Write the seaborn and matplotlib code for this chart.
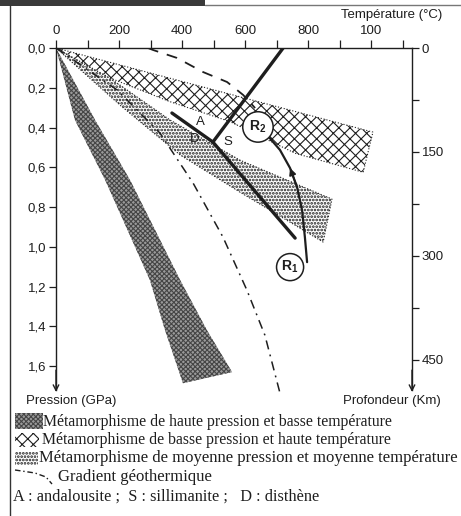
import numpy as np
import pandas as pd
import seaborn as sns
import matplotlib.pyplot as plt
from matplotlib.patches import Rectangle
from matplotlib.lines import Line2D

# Band outlines: temperature (°C) vs pressure (GPa)
hp_left_t = [0, 60, 156, 298, 346, 403]
hp_left_p = [0, 0.362, 0.664, 1.167, 1.419, 1.686]
hp_right_t = [0, 124, 235, 394, 479, 559]
hp_right_p = [0, 0.362, 0.664, 1.167, 1.419, 1.630]

bp_upper_t = [0, 1006]
bp_upper_p = [0, 0.423]
bp_lower_t = [0, 170, 362, 552, 760, 975]
bp_lower_p = [0, 0.15, 0.27, 0.37, 0.53, 0.625]

mp_upper_t = [0, 171, 362, 584, 876]
mp_upper_p = [0, 0.151, 0.362, 0.564, 0.760]
mp_lower_t = [0, 203, 394, 584, 848]
mp_lower_p = [0, 0.287, 0.538, 0.725, 0.976]

# geothermal gradient (dash-dot) and dashed curve
grad_t = [0, 194, 330, 435, 530, 606, 663, 711]
grad_p = [0, 0.211, 0.428, 0.679, 0.951, 1.218, 1.444, 1.736]
dash_t = [292, 308, 384, 467, 543, 594, 632]
dash_p = [0, 0.01, 0.05, 0.121, 0.171, 0.236, 0.302]

# aluminosilicate reactions (triple point)
ad_t, ad_p = [368, 498], [0.327, 0.473]
as_t, as_p = [498, 721], [0.473, 0.0]
sd_t, sd_p = [498, 759], [0.473, 0.956]
mineral_labels = ['A', 'D', 'S']
mineral_t = [457, 441, 546]
mineral_p = [0.372, 0.458, 0.473]

# rocks R1, R2 and the path between them
rock_labels = [r'$\mathbf{R_1}$', r'$\mathbf{R_2}$']
rock_t = [743, 641]
rock_p = [1.102, 0.397]
path_t = [797, 790, 781, 765, 743, 711, 673]
path_p = [1.077, 0.951, 0.815, 0.699, 0.604, 0.513, 0.443]

temp_ticks = list(range(0, 1200, 100))
temp_labels = ['0', '', '200', '', '400', '', '600', '', '800', '', '100', '']
press_ticks = [0, 0.2, 0.4, 0.6, 0.8, 1.0, 1.2, 1.4, 1.6]
depth_ticks = [0, 75, 150, 225, 300, 375, 450]
depth_labels = ['0', '', '150', '', '300', '', '450']
km_per_gpa = 287

legend_texts = [
    'Métamorphisme de haute pression et basse température',
    'Métamorphisme de basse pression et haute température',
    'Métamorphisme de moyenne pression et moyenne température',
    'Gradient géothermique',
    'A : andalousite ;  S : sillimanite ;   D : disthène',
]

sns.set_theme(style='ticks')
plt.rcParams['font.family'] = ['Liberation Sans', 'DejaVu Sans']
plt.rcParams['hatch.linewidth'] = 0.8
plt.rcParams['mathtext.fontset'] = 'custom'
plt.rcParams['mathtext.rm'] = 'Liberation Sans'
plt.rcParams['mathtext.bf'] = 'Liberation Sans:bold'

W, H = 461, 516
ink = '#1e1e1e'
hp_face, hp_hatch = '#9a9a9a', '#454545'
dot_hatch = '.....'
dot_lw = 1.3
fig = plt.figure(figsize=(W / 100, H / 100), dpi=100)
ax = fig.add_axes([56 / W, 1 - 390 / H, 356 / W, 342 / H])
ax.set_xlim(0, 1130)
ax.set_ylim(1.72, 0)

# bands
with plt.rc_context({'hatch.linewidth': dot_lw}):
    ax.fill(mp_upper_t + mp_lower_t[::-1], mp_upper_p + mp_lower_p[::-1],
            facecolor='white', edgecolor=ink, hatch=dot_hatch, lw=0.8, ls=':')
ax.fill(bp_upper_t + bp_lower_t[::-1], bp_upper_p + bp_lower_p[::-1],
        facecolor='white', edgecolor=ink, hatch='xxx', lw=0.8, ls=':')
ax.fill(hp_left_t + hp_right_t[::-1], hp_left_p + hp_right_p[::-1],
        facecolor=hp_face, edgecolor=hp_hatch, hatch='xxxxxxx', lw=0)

# lines
sns.lineplot(x=grad_t, y=grad_p, sort=False, color=ink, lw=1.1,
             linestyle=(0, (6, 3.5, 1.2, 3.5)), ax=ax, clip_on=False)
sns.lineplot(x=dash_t, y=dash_p, sort=False, color=ink, lw=1.3,
             linestyle=(0, (6, 5)), ax=ax)
for tt, pp in [(ad_t, ad_p), (as_t, as_p), (sd_t, sd_p)]:
    sns.lineplot(x=tt, y=pp, sort=False, color=ink, lw=2.4, ax=ax)
sns.lineplot(x=path_t, y=path_p, sort=False, color=ink, lw=1.6, ax=ax)
ax.annotate('', xy=(path_t[4], path_p[4]), xytext=(path_t[3], path_p[3]),
            arrowprops=dict(arrowstyle='-|>', color=ink, lw=1.2,
                            mutation_scale=10, shrinkA=0, shrinkB=0))

for lab, tt, pp in zip(mineral_labels, mineral_t, mineral_p):
    ax.text(tt, pp, lab, ha='center', va='center', fontsize=9.5, color=ink)

sns.scatterplot(x=rock_t, y=rock_p, size=[1, 0], sizes=(380, 480),
                facecolor='white', edgecolor=ink, linewidth=1.1, legend=False,
                ax=ax, zorder=5)
for lab, tt, pp in zip(rock_labels, rock_t, rock_p):
    ax.text(tt, pp, lab, ha='center', va='center', fontsize=10, color=ink, zorder=6)

# axes styling
ax.xaxis.tick_top()
ax.set_xticks(temp_ticks)
ax.set_xticklabels(temp_labels, fontsize=9.5)
ax.set_yticks(press_ticks)
ax.set_yticklabels([f'{v:.1f}'.replace('.', ',') for v in press_ticks], fontsize=9.5)
ax.tick_params(axis='x', direction='out', length=6, width=0.9, pad=2, colors=ink)
ax.tick_params(axis='y', direction='out', length=5, width=0.9, pad=2, colors=ink)
ax.set_xlabel('')
ax.set_ylabel('')
for side in ['bottom', 'right']:
    ax.spines[side].set_visible(False)
for side in ['top', 'left']:
    ax.spines[side].set_linewidth(1)
    ax.spines[side].set_color(ink)

ax2 = ax.twinx()
ax2.set_ylim(1.72 * km_per_gpa, 0)
ax2.set_yticks(depth_ticks)
ax2.set_yticklabels(depth_labels, fontsize=9.5)
ax2.tick_params(axis='y', direction='out', length=5, width=0.9, pad=2, colors=ink)
for side in ['bottom', 'top', 'left']:
    ax2.spines[side].set_visible(False)
ax2.spines['right'].set_color(ink)
ax2.spines['right'].set_linewidth(1)

for xx in [0, 1130]:
    ax.annotate('', xy=(xx, 1.73), xytext=(xx, 1.62), annotation_clip=False,
                arrowprops=dict(arrowstyle='->', color=ink, lw=1,
                                mutation_scale=10, shrinkA=0, shrinkB=0))

# axis titles
fig.text(392 / W, 1 - 15 / H, 'Température (°C)', ha='center', va='center',
         fontsize=9.5, color=ink)
fig.text(26 / W, 1 - 401 / H, 'Pression (GPa)', ha='left', va='center',
         fontsize=9.5, color=ink)
fig.text(392 / W, 1 - 401 / H, 'Profondeur (Km)', ha='center', va='center',
         fontsize=9.5, color=ink)

# legend below the chart
swatches = [
    dict(xy=(15, 429), w=28, h=16, fc=hp_face, ec=hp_hatch, hatch='xxxxxxx', hl=0.8),
    dict(xy=(15, 447), w=24, h=14, fc='white', ec=ink, hatch='xxx', hl=0.8),
    dict(xy=(15, 465), w=23, h=13, fc='white', ec=ink, hatch=dot_hatch, hl=dot_lw),
]
for sw in swatches:
    with plt.rc_context({'hatch.linewidth': sw['hl']}):
        fig.patches.append(Rectangle((sw['xy'][0] / W, 1 - sw['xy'][1] / H),
                                     sw['w'] / W, sw['h'] / H, transform=fig.transFigure,
                                     facecolor=sw['fc'], edgecolor=sw['ec'],
                                     hatch=sw['hatch'], lw=0))
fig.add_artist(Line2D(np.array([15, 35, 46, 52]) / W,
                      1 - np.array([470, 473, 477, 484]) / H,
                      color=ink, lw=1, linestyle=(0, (4, 2, 1, 2))))
text_x = [43, 42, 39, 58, 13]
text_y = [422, 440, 458, 477, 497]
text_size = [11.3, 11.3, 12.0, 12.0, 11.8]
for txt, xx, yy, fs in zip(legend_texts, text_x, text_y, text_size):
    fig.text(xx / W, 1 - yy / H, txt, ha='left', va='center', fontsize=fs,
             family=['Liberation Serif', 'DejaVu Serif'], color=ink)

# scan frame
fig.add_artist(Line2D([10 / W, 10 / W], [0, 1 - 5 / H], color='#333', lw=1))
fig.add_artist(Line2D([205 / W, 1], [1 - 5 / H, 1 - 5 / H], color='#777', lw=1))
fig.patches.append(Rectangle((0, 1 - 6 / H), 205 / W, 6 / H,
                             transform=fig.transFigure, color='#3a3a3a', lw=0))

fig.savefig('out.png', dpi=100)
